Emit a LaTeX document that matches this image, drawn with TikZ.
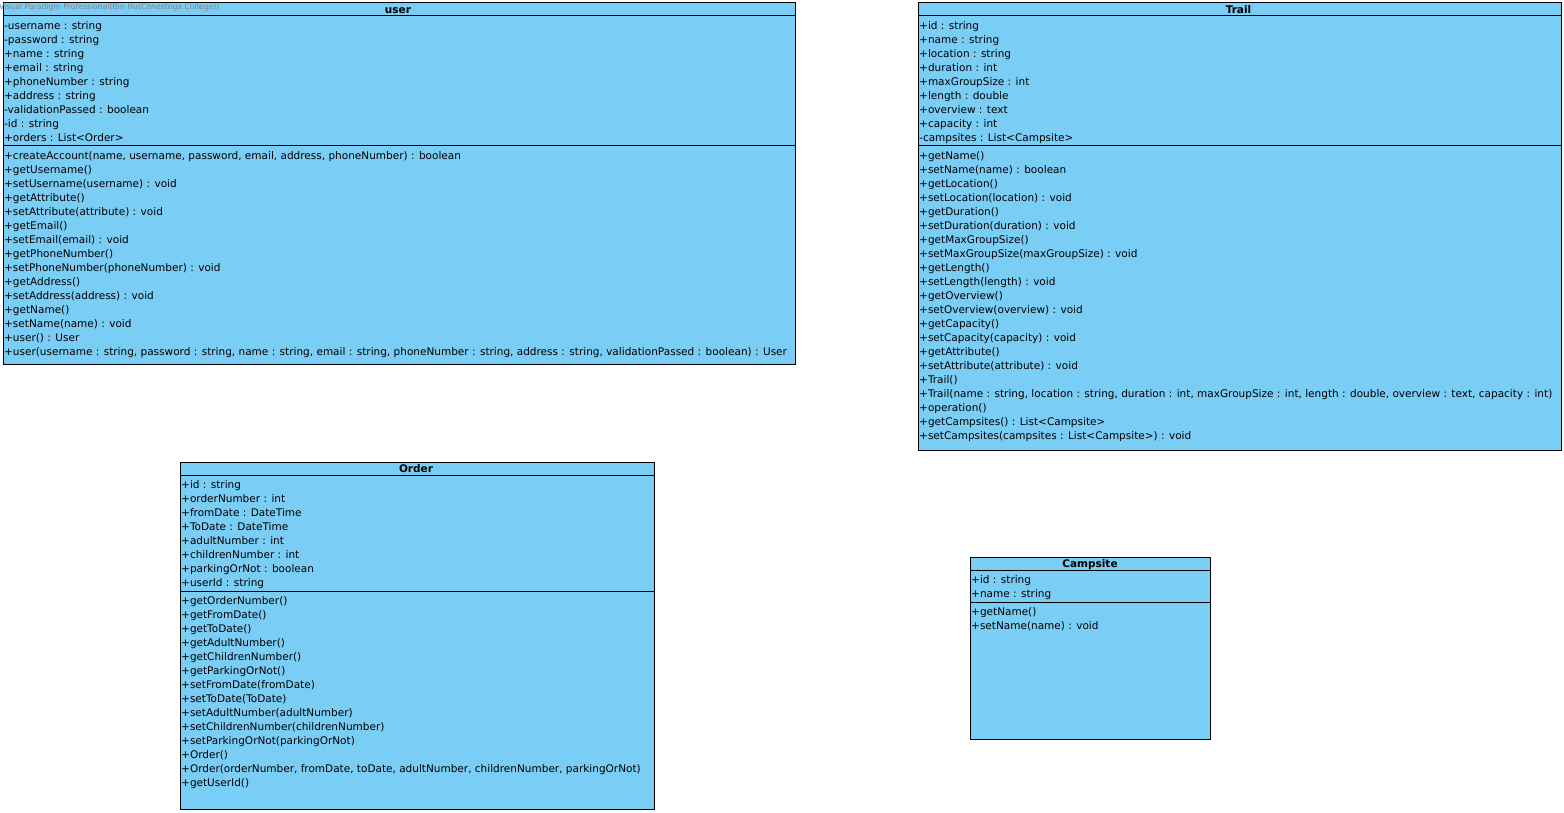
\documentclass[tikz,border=0pt]{standalone}
\usepackage{fontspec}
\setmainfont{DejaVu Sans}
\definecolor{classfill}{RGB}{122,206,245}
\definecolor{wmgray}{RGB}{130,130,130}
\tikzset{
  classbox/.style={draw=black, fill=classfill, line width=1pt},
  sepline/.style={draw=black, line width=1pt},
  member/.style={anchor=base west, inner sep=0pt, font=\fontsize{10.5}{14}\selectfont},
  classtitle/.style={anchor=base, inner sep=0pt, font=\fontsize{10.5}{14}\selectfont\bfseries},
  watermark/.style={anchor=base west, inner sep=0pt, text=wmgray, font=\fontsize{7.7}{9}\selectfont}
}
\begin{document}
\begin{tikzpicture}[x=1pt,y=-1pt]
\useasboundingbox (0,0) rectangle (1564,813);

% ---------------- user ----------------
\draw[classbox] (3,3) rectangle (795,364);
\draw[sepline] (3,16) -- (795,16);
\draw[sepline] (3,146) -- (795,146);
\node[classtitle] (usertitle) at (398,13.5) {user};
\foreach [count=\i] \t in {
  {-username : string},{-password : string},{+name : string},{+email : string},
  {+phoneNumber : string},{+address : string},{-validationPassed : boolean},
  {-id : string},{+orders : List<Order>}}
  \node[member] (ua\i) at (4,{29.3+14*(\i-1)}) {\t};
\foreach [count=\i] \t in {
  {+createAccount(name, username, password, email, address, phoneNumber) : boolean},
  {+getUsername()},{+setUsername(username) : void},{+getAttribute()},
  {+setAttribute(attribute) : void},{+getEmail()},{+setEmail(email) : void},
  {+getPhoneNumber()},{+setPhoneNumber(phoneNumber) : void},{+getAddress()},
  {+setAddress(address) : void},{+getName()},{+setName(name) : void},
  {+user() : User},
  {+user(username : string, password : string, name : string, email : string, phoneNumber : string, address : string, validationPassed : boolean) : User}}
  \node[member] (um\i) at (4,{159.3+14*(\i-1)}) {\t};
\node[watermark] (wm) at (-1,10) {Visual Paradigm Professional(Bin Hu(Conestoga College))};

% ---------------- Trail ----------------
\draw[classbox] (918,3) rectangle (1561,450);
\draw[sepline] (918,16) -- (1561,16);
\draw[sepline] (918,146) -- (1561,146);
\node[classtitle] (trailtitle) at (1238.5,13.5) {Trail};
\foreach [count=\i] \t in {
  {+id : string},{+name : string},{+location : string},{+duration : int},
  {+maxGroupSize : int},{+length : double},{+overview : text},{+capacity : int},
  {-campsites : List<Campsite>}}
  \node[member] (ta\i) at (919,{29.3+14*(\i-1)}) {\t};
\foreach [count=\i] \t in {
  {+getName()},{+setName(name) : boolean},{+getLocation()},
  {+setLocation(location) : void},{+getDuration()},{+setDuration(duration) : void},
  {+getMaxGroupSize()},{+setMaxGroupSize(maxGroupSize) : void},{+getLength()},
  {+setLength(length) : void},{+getOverview()},{+setOverview(overview) : void},
  {+getCapacity()},{+setCapacity(capacity) : void},{+getAttribute()},
  {+setAttribute(attribute) : void},{+Trail()},
  {+Trail(name : string, location : string, duration : int, maxGroupSize : int, length : double, overview : text, capacity : int)},
  {+operation()},{+getCampsites() : List<Campsite>},
  {+setCampsites(campsites : List<Campsite>) : void}}
  \node[member] (tm\i) at (919,{159.3+14*(\i-1)}) {\t};

% ---------------- Order ----------------
\draw[classbox] (180,462) rectangle (654,809);
\draw[sepline] (180,475) -- (654,475);
\draw[sepline] (180,591) -- (654,591);
\node[classtitle] (ordertitle) at (416,472.5) {Order};
\foreach [count=\i] \t in {
  {+id : string},{+orderNumber : int},{+fromDate : DateTime},{+ToDate : DateTime},
  {+adultNumber : int},{+childrenNumber : int},{+parkingOrNot : boolean},
  {+userId : string}}
  \node[member] (oa\i) at (181,{488.3+14*(\i-1)}) {\t};
\foreach [count=\i] \t in {
  {+getOrderNumber()},{+getFromDate()},{+getToDate()},{+getAdultNumber()},
  {+getChildrenNumber()},{+getParkingOrNot()},{+setFromDate(fromDate)},
  {+setToDate(ToDate)},{+setAdultNumber(adultNumber)},
  {+setChildrenNumber(childrenNumber)},{+setParkingOrNot(parkingOrNot)},
  {+Order()},
  {+Order(orderNumber, fromDate, toDate, adultNumber, childrenNumber, parkingOrNot)},
  {+getUserId()}}
  \node[member] (om\i) at (181,{604.3+14*(\i-1)}) {\t};

% ---------------- Campsite ----------------
\draw[classbox] (970,557) rectangle (1210,739);
\draw[sepline] (970,570) -- (1210,570);
\draw[sepline] (970,602) -- (1210,602);
\node[classtitle] (camptitle) at (1090,567.5) {Campsite};
\foreach [count=\i] \t in {{+id : string},{+name : string}}
  \node[member] (ca\i) at (971,{583.3+14*(\i-1)}) {\t};
\foreach [count=\i] \t in {{+getName()},{+setName(name) : void}}
  \node[member] (cm\i) at (971,{615.3+14*(\i-1)}) {\t};
\end{tikzpicture}
\end{document}
